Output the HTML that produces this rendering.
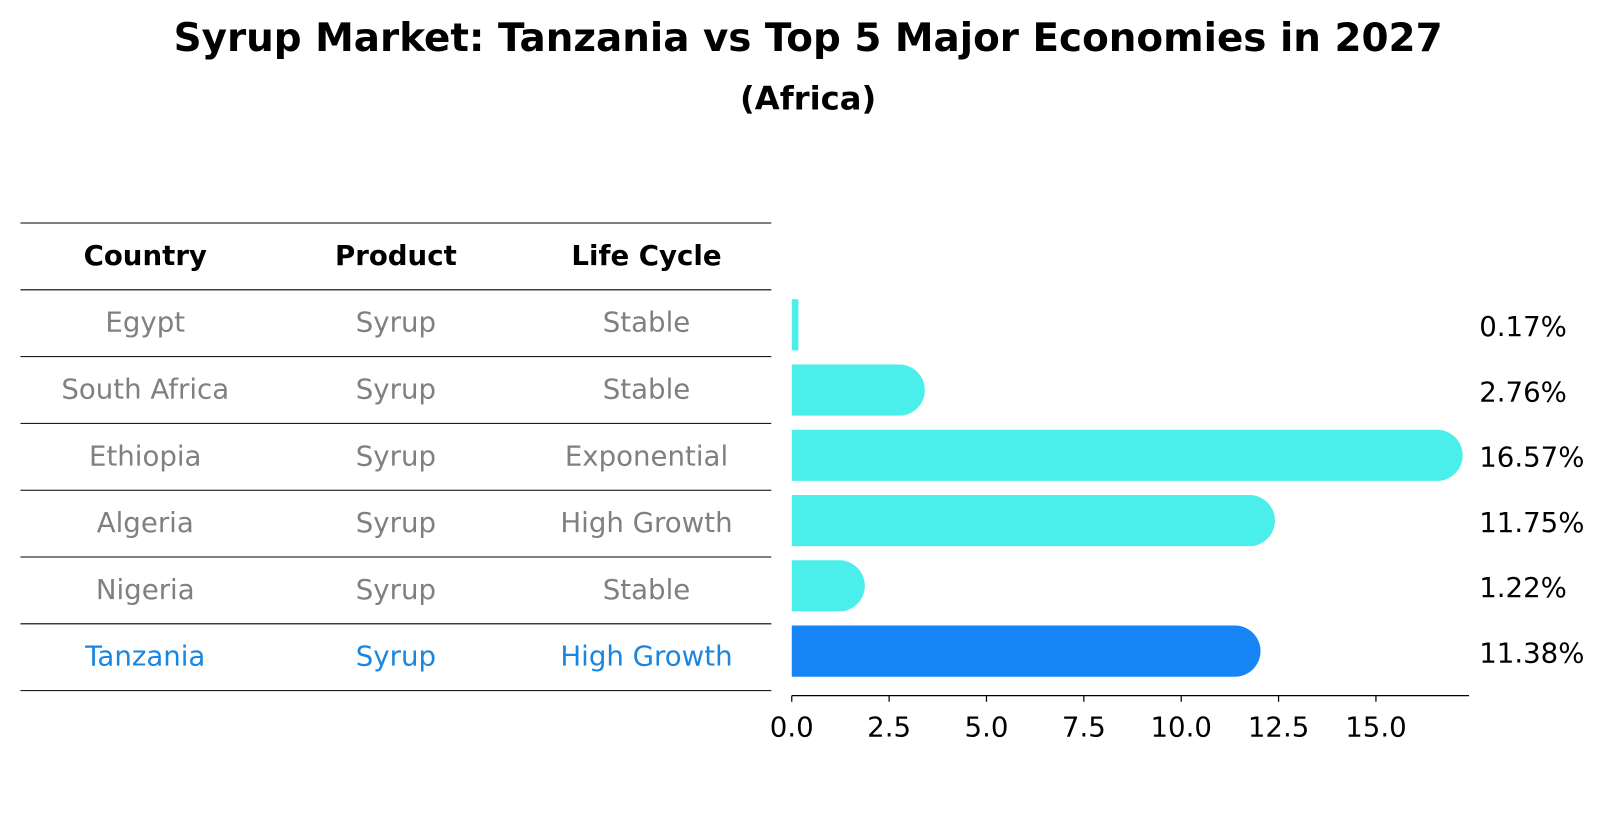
<!DOCTYPE html>
<html><head><meta charset="utf-8"><style>
body{margin:0;background:#fff;}
svg{display:block;font-family:"DejaVu Sans","Liberation Sans",sans-serif;}
</style></head><body>
<svg id="chart" width="1604" height="823" viewBox="0 0 1568 804.5">
<text x="790" y="50" text-anchor="middle" font-size="38" font-weight="bold">Syrup Market: Tanzania vs Top 5 Major Economies in 2027</text>
<text x="790" y="107" text-anchor="middle" font-size="31.5" font-weight="bold">(Africa)</text>
<g id="table"></g>
<g id="bars"></g>
</svg>
<script>
const countries=["Egypt","South Africa","Ethiopia","Algeria","Nigeria","Tanzania"];
const products=["Syrup","Syrup","Syrup","Syrup","Syrup","Syrup"];
const lifeCycles=["Stable","Stable","Exponential","High Growth","Stable","High Growth"];
const values=[0.17,2.76,16.57,11.75,1.22,11.38];
const valueLabels=["0.17%","2.76%","16.57%","11.75%","1.22%","11.38%"];
const xTicks=[0,2.5,5,7.5,10,12.5,15];
const headers=["Country","Product","Life Cycle"];

const NS="http://www.w3.org/2000/svg";
function mk(tag,attrs,parent){const e=document.createElementNS(NS,tag);for(const k in attrs)e.setAttribute(k,attrs[k]);parent.appendChild(e);return e;}
const table=document.getElementById('table');
const bars=document.getElementById('bars');
const colX=[142,387,632];
const lineY=i=>218+i*65.3;
const FS=27;
for(let i=0;i<=7;i++){
  const l=mk('line',{x1:20,x2:754,y1:lineY(i),y2:lineY(i),stroke:'#000','stroke-width':1},table);
  
  
}
headers.forEach((h,j)=>{
  const t=mk('text',{x:colX[j],y:lineY(0)+41,'text-anchor':'middle','font-size':FS,'font-weight':'bold'},table);
  t.textContent=h;
  
  
});
countries.forEach((c,i)=>{
  const col=i===countries.length-1?'#1a86e0':'#808080';
  [c,products[i],lifeCycles[i]].forEach((v,j)=>{
    const t=mk('text',{x:colX[j],y:lineY(i+1)+41,'text-anchor':'middle','font-size':FS,fill:col},table);
    t.textContent=v;
    
    
  });
});
const x0=774, pxPerUnit=38.07;
const xs=v=>x0+v*pxPerUnit;
const barCenter=i=>317.5+i*63.8;
const bh=50;
const ax=mk('line',{x1:x0,x2:1436,y1:680,y2:680,stroke:'#000','stroke-width':1.3},bars);


xTicks.forEach(t=>{
  const tl=mk('line',{x1:xs(t),x2:xs(t),y1:680,y2:686,stroke:'#000','stroke-width':1.2},bars);
  
  
  const tx=mk('text',{x:xs(t),y:720,'text-anchor':'middle','font-size':FS},bars);
  tx.textContent=t.toFixed(1);
  
  
});
values.forEach((v,i)=>{
  const col=i===values.length-1?'#1785f5':'#4aeeea';
  const cy=barCenter(i), top=cy-bh/2, xe=xs(v);
  let d;
  if(xe-x0<10){d=`M${x0},${top}H${xe}V${top+bh}H${x0}Z`;}
  else{const r=bh/2;d=`M${x0},${top}H${xe}A${r},${r} 0 0 1 ${xe},${top+bh}H${x0}Z`;}
  const p=mk('path',{d:d,fill:col},bars);
  
  
  const t=mk('text',{x:1446,y:cy+11,'font-size':FS},bars);
  t.textContent=valueLabels[i];
  
  
});
</script>
</body></html>
